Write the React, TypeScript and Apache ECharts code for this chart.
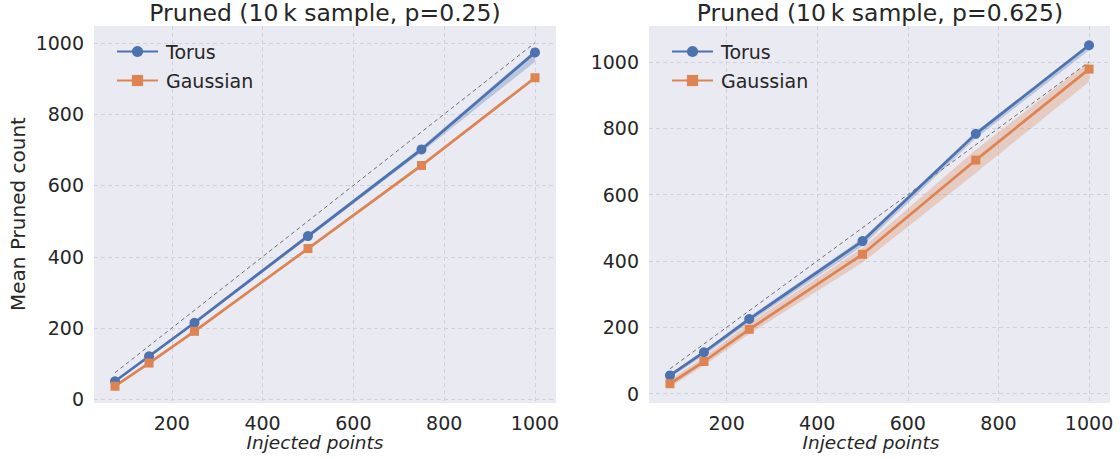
import React, { useEffect, useRef } from "react";
import * as echarts from "echarts";

const injected = [75, 150, 250, 500, 750, 1000];
const refLine = [75, 1000];

// Left panel (p=0.25)
const torusL = [51, 121, 215, 458, 701, 973];
const torusLoL = [48, 117, 210, 452, 693, 947];
const torusHiL = [54, 125, 220, 464, 708, 980];
const gaussL = [37, 102, 191, 423, 656, 902];
const gaussLoL = [34, 99, 187, 419, 651, 897];
const gaussHiL = [40, 105, 195, 427, 661, 907];

// Right panel (p=0.625)
const torusR = [55, 125, 225, 460, 783, 1050];
const torusLoR = [48, 115, 215, 445, 770, 1035];
const torusHiR = [60, 130, 232, 468, 790, 1055];
const gaussR = [30, 97, 194, 420, 704, 978];
const gaussLoR = [20, 85, 180, 395, 665, 940];
const gaussHiR = [42, 110, 212, 440, 735, 1000];

const titles = ["Pruned (10\u2009k sample, p=0.25)", "Pruned (10\u2009k sample, p=0.625)"];
const xName = "Injected points";
const yName = "Mean Pruned count";

const BLUE = "#4c72b0";
const ORANGE = "#dd8452";
const TXT = "#262626";
const FONT = "DejaVu Sans";

function bandSeries(idx: number, name: string, lo: number[], hi: number[], color: string) {
  const data = injected.map((x, i) => [x, lo[i], hi[i]]);
  return {
    type: "custom",
    name,
    xAxisIndex: idx,
    yAxisIndex: idx,
    silent: true,
    z: 1,
    encode: { x: 0, y: [1, 2] },
    data,
    renderItem: (params: any, api: any) => {
      if (params.dataIndex !== 0) return null;
      const upper = data.map((d) => api.coord([d[0], d[2]]));
      const lower = data.map((d) => api.coord([d[0], d[1]])).reverse();
      return {
        type: "polygon",
        shape: { points: upper.concat(lower) },
        style: { fill: color, stroke: "none" },
      };
    },
  };
}

function lineSeries(idx: number, name: string, vals: number[], color: string, symbol: string, size: number) {
  return {
    type: "line",
    name,
    xAxisIndex: idx,
    yAxisIndex: idx,
    data: injected.map((x, i) => [x, vals[i]]),
    symbol,
    symbolSize: size,
    showSymbol: true,
    z: 3,
    lineStyle: { color, width: 2.7 },
    itemStyle: { color },
  };
}

function refSeries(idx: number) {
  return {
    type: "line",
    name: "ref" + idx,
    xAxisIndex: idx,
    yAxisIndex: idx,
    data: refLine.map((v) => [v, v]),
    symbol: "none",
    silent: true,
    z: 2,
    lineStyle: { color: "#6e6e6e", width: 1, type: [4, 3] },
  };
}

const gridLine = { show: true, showMinLine: false, showMaxLine: false, lineStyle: { color: "#d2d2da", width: 1, type: [4, 3] } };
const fmt = (v: number) => String(v);

function xAxis(idx: number) {
  return {
    type: "value",
    gridIndex: idx,
    min: 28.75,
    max: 1046.25,
    splitNumber: 5,
    axisLine: { show: false },
    axisTick: { show: false },
    splitLine: gridLine,
    axisLabel: { formatter: fmt, showMinLabel: false, showMaxLabel: false, fontFamily: FONT, fontSize: 19, color: TXT, margin: 10 },
  };
}

function yAxis(idx: number, min: number, max: number) {
  return {
    type: "value",
    gridIndex: idx,
    min,
    max,
    splitNumber: 5,
    axisLine: { show: false },
    axisTick: { show: false },
    splitLine: gridLine,
    axisLabel: { formatter: fmt, showMinLabel: false, showMaxLabel: false, fontFamily: FONT, fontSize: 19, color: TXT, margin: 10 },
  };
}

function legend(left: number) {
  return {
    data: [{ name: "Torus" }, { name: "Gaussian" }],
    orient: "vertical",
    left,
    top: 37,
    itemWidth: 41,
    itemHeight: 14,
    itemGap: 10,
    textStyle: { fontFamily: FONT, fontSize: 19, color: TXT, padding: [0, 0, 0, 3] },
    selectedMode: false,
  };
}

export default function App() {
  const ref = useRef<HTMLDivElement>(null);
  useEffect(() => {
    if (!ref.current) return;
    const chart = echarts.init(ref.current, undefined, { renderer: "svg" });
    const option: any = {
      animation: false,
      backgroundColor: "#ffffff",
      textStyle: { fontFamily: FONT },
      grid: [
        { left: 94, top: 26, width: 462, height: 377, show: true, backgroundColor: "#eaeaf2", borderWidth: 0 },
        { left: 649, top: 26, width: 461, height: 377, show: true, backgroundColor: "#eaeaf2", borderWidth: 0 },
      ],
      xAxis: [xAxis(0), xAxis(1)],
      yAxis: [yAxis(0, -10, 1047), yAxis(1, -28, 1108)],
      legend: [legend(111), legend(666)],
      graphic: [
        { type: "text", x: 325, y: 13, style: { text: titles[0], font: `23.5px '${FONT}'`, fill: TXT, textAlign: "center", textVerticalAlign: "middle" } },
        { type: "text", x: 880, y: 13, style: { text: titles[1], font: `23.5px '${FONT}'`, fill: TXT, textAlign: "center", textVerticalAlign: "middle" } },
        { type: "text", x: 315, y: 442, style: { text: xName, font: `italic 18.5px '${FONT}'`, fill: TXT, textAlign: "center", textVerticalAlign: "middle" } },
        { type: "text", x: 871, y: 442, style: { text: xName, font: `italic 18.5px '${FONT}'`, fill: TXT, textAlign: "center", textVerticalAlign: "middle" } },
        { type: "text", x: 18, y: 214, rotation: Math.PI / 2, style: { text: yName, font: `20px '${FONT}'`, fill: TXT, textAlign: "center", textVerticalAlign: "middle" } },
      ],
      series: [
        refSeries(0),
        bandSeries(0, "torusBandL", torusLoL, torusHiL, "rgba(76,114,176,0.3)"),
        bandSeries(0, "gaussBandL", gaussLoL, gaussHiL, "rgba(221,132,82,0.3)"),
        lineSeries(0, "Torus", torusL, BLUE, "circle", 10),
        lineSeries(0, "Gaussian", gaussL, ORANGE, "rect", 9),
        refSeries(1),
        bandSeries(1, "torusBandR", torusLoR, torusHiR, "rgba(76,114,176,0.3)"),
        bandSeries(1, "gaussBandR", gaussLoR, gaussHiR, "rgba(221,132,82,0.3)"),
        lineSeries(1, "Torus", torusR, BLUE, "circle", 10),
        lineSeries(1, "Gaussian", gaussR, ORANGE, "rect", 9),
      ],
    };
    chart.setOption(option);
    return () => chart.dispose();
  }, []);
  return <div ref={ref} style={{ position: "fixed", left: 0, top: 0, width: 1120, height: 459 }} />;
}
